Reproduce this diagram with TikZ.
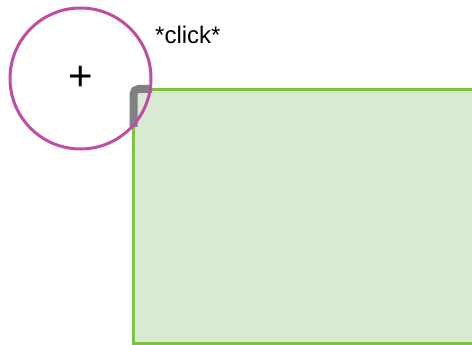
\documentclass[tikz,border=0pt]{standalone}
\usepackage{fontspec}
\setmainfont{Liberation Sans}
\usepackage{xcolor}
\definecolor{cursorpink}{HTML}{C04CA3}
\definecolor{boxgreen}{HTML}{7FC241}
\definecolor{boxfill}{HTML}{D9EAD3}
\definecolor{handlegray}{HTML}{808080}

\begin{document}
\begin{tikzpicture}[
			     x=1pt, y=-1pt,
			     cursor/.style={circle,draw=cursorpink,line width=3pt,minimum size=141pt,inner sep=0pt},
			     handle/.style={draw=handlegray,line width=8pt,rounded corners=5pt},
			     area/.style={draw=boxgreen,fill=boxfill,line width=3pt}
			     ]
\useasboundingbox (0,0) rectangle (472,345);
\path[area] (133.5,89.5) rectangle (490,343.5);
\coordinate (h1) at (133.5,127);
\coordinate (h2) at (152,89);
\draw[handle] (h1) |- (h2);
\node[cursor] (m) at (80.5,78.5) {};
\node[font=\fontsize{42}{42}\selectfont] (plus) at (m.center) {+};
\node[font=\fontsize{24}{24}\selectfont,anchor=base west,inner sep=0pt] (click) at (155,44) {*click*};
\end{tikzpicture}
\end{document}
